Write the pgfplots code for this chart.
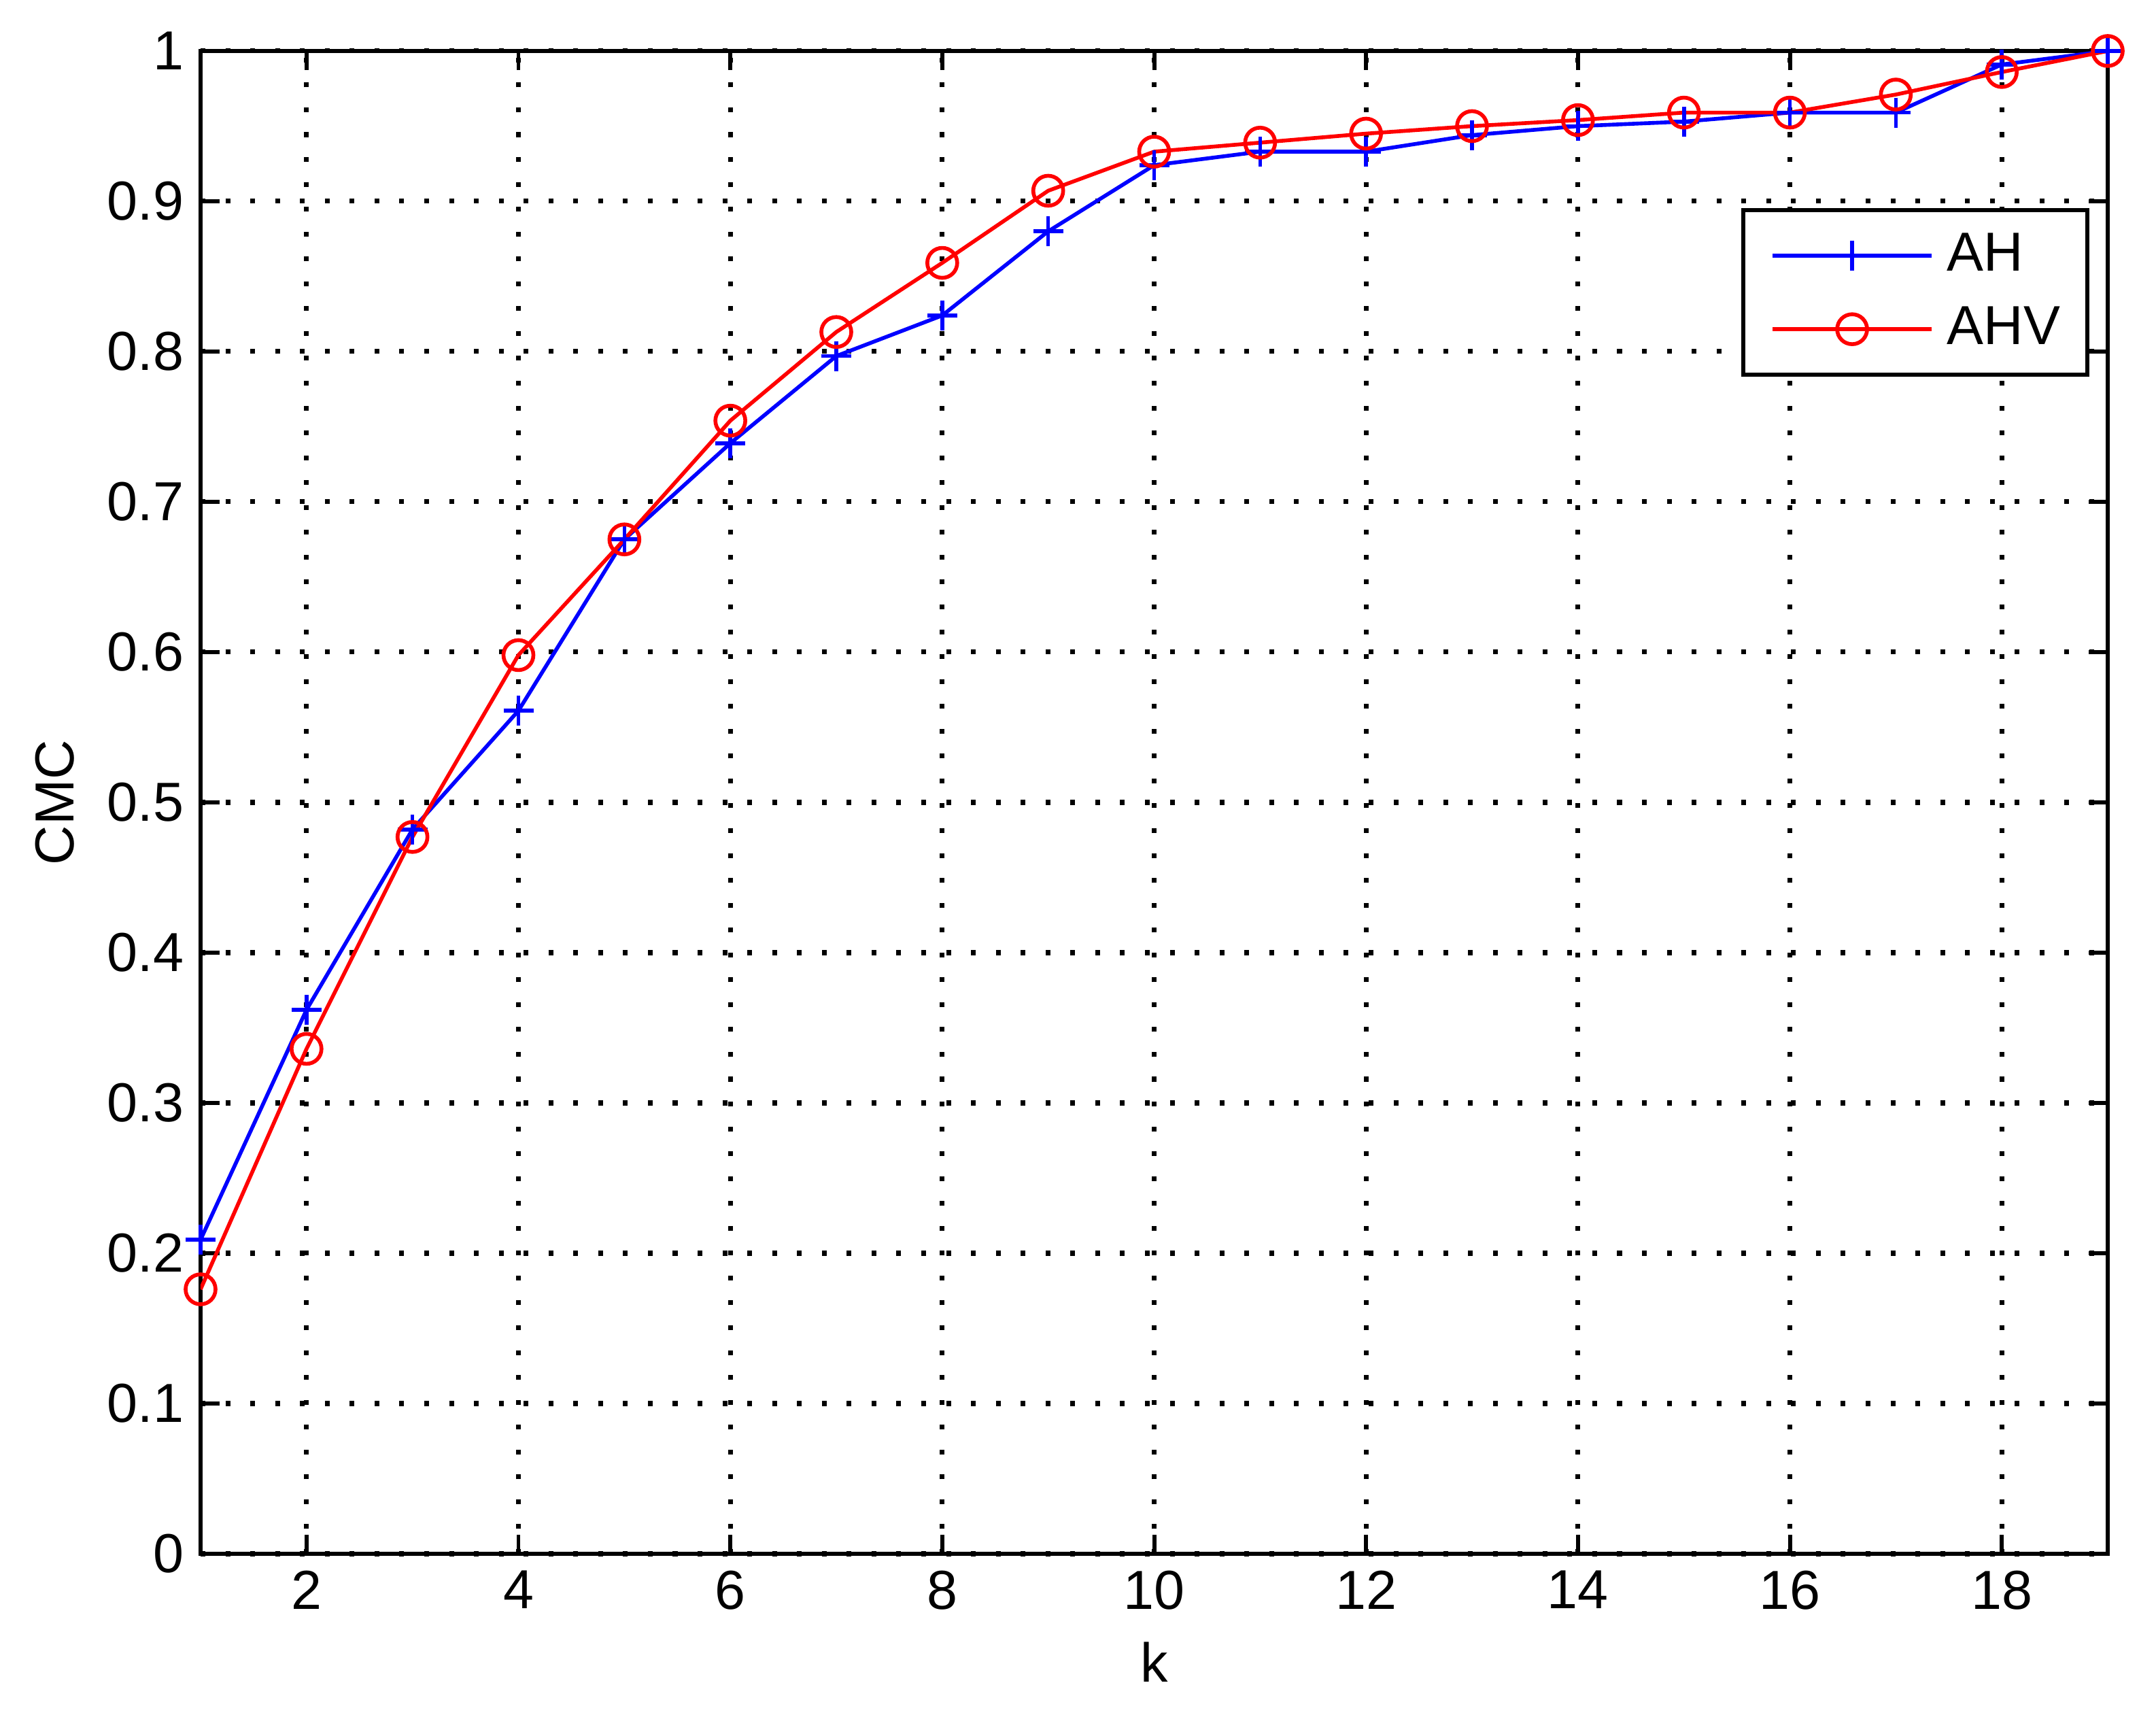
\documentclass[border=0pt]{standalone}
\usepackage{fontspec}
\setmainfont{Liberation Sans}
\usepackage{pgfplots}
\pgfplotsset{compat=1.18}

\newcommand{\chartfont}{\fontsize{11.5}{13.8}\selectfont}

\begin{document}
\begin{tikzpicture}
  \begin{axis}[
    scale only axis,
    width=14.025cm,
    height=11.05cm,
    xmin=1, xmax=19,
    ymin=0, ymax=1,
    xtick={2,4,...,18},
    ytick={0,0.1,...,1},
    tick pos=both,
    tick align=inside,
    major tick length=0.14cm,
    axis line style={line width=0.85pt},
    every tick/.style={black, line width=0.85pt},
    grid=major,
    major grid style={black, line width=1pt, dash pattern=on 1pt off 4.2pt},
    xlabel={k},
    ylabel={CMC},
    tick label style={font=\chartfont},
    label style={font=\chartfont},
    /pgf/number format/assume math mode=true,
    yticklabel style={/pgf/number format/fixed},
    legend style={
      at={(0.9904,0.8955)}, anchor=north east,
      draw=black, line width=0.85pt, fill=white,
      font=\chartfont,
      inner xsep=0.2cm, inner ysep=0.17cm,
      row sep=0.21cm,
      nodes={inner sep=0pt},
      /tikz/column sep=0.1cm,
    },
    legend cell align=left,
    legend image code/.code={
      \draw[mark repeat=2, mark phase=2, #1]
        plot coordinates {(0cm,0cm) (0.585cm,0cm) (1.17cm,0cm)};
    },
  ]
  \addplot[blue, line width=0.8pt, mark=+, mark size=0.11cm,
           mark options={line width=0.8pt}] coordinates {
    (1,0.209) (2,0.362) (3,0.482) (4,0.561) (5,0.675) (6,0.739)
    (7,0.797) (8,0.824) (9,0.880) (10,0.924) (11,0.933) (12,0.933)
    (13,0.944) (14,0.950) (15,0.953) (16,0.959) (17,0.959) (18,0.991)
    (19,1.000)
  };
  \addplot[red, line width=0.8pt, mark=o, mark size=0.11cm,
           mark options={line width=0.8pt}] coordinates {
    (1,0.176) (2,0.336) (3,0.477) (4,0.598) (5,0.675) (6,0.754)
    (7,0.813) (8,0.859) (9,0.907) (10,0.933) (11,0.939) (12,0.945)
    (13,0.950) (14,0.954) (15,0.959) (16,0.959) (17,0.971) (18,0.986)
    (19,1.000)
  };
  \legend{AH, AHV}
  \end{axis}
  \path (current axis.south west) ++(-1.475cm,-1.195cm)
    rectangle ([shift={(0.355cm,0.375cm)}]current axis.north east);
\end{tikzpicture}
\end{document}
